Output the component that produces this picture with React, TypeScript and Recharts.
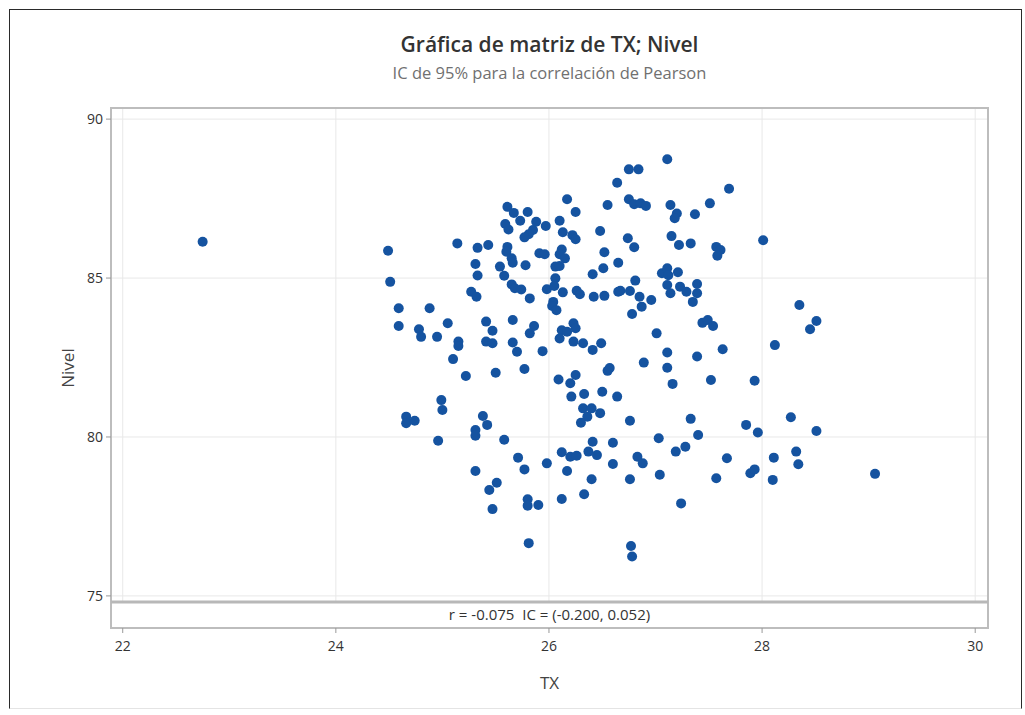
import React from 'react';
import {
  ScatterChart,
  Scatter,
  XAxis,
  YAxis,
  CartesianGrid,
  ReferenceArea,
  ReferenceLine,
} from 'recharts';

const title = 'Gráfica de matriz de TX; Nivel';
const subtitle = 'IC de 95% para la correlación de Pearson';
const corrText = 'r = -0.075\u00a0\u00a0IC = (-0.200, 0.052)';

const xTicks = [22, 24, 26, 28, 30];
const yTicks = [75, 80, 85, 90];

// TX values, same order as nivelValues
const txValues = [
  22.75, 26.64, 26.17, 26.55, 25.61, 25.67, 25.8, 25.73, 25.88, 26.25,
  26.1, 25.59, 25.62, 25.97, 25.85, 25.81, 25.77, 26.13, 26.22, 26.25,
  26.48, 24.49, 25.14, 25.33, 25.43, 25.61, 25.6, 25.91, 25.96, 26.12,
  26.1, 26.15, 26.52, 25.65, 25.66, 25.31, 25.54, 25.78, 26.06, 26.1,
  26.51, 26.65, 25.33, 25.58, 26.06, 26.41, 24.51, 25.65, 25.68, 25.74,
  25.98, 26.05, 26.13, 26.26, 26.29, 25.27, 25.32, 26.42, 26.52, 26.65,
  25.82, 27.11, 26.75, 26.84, 27.69, 26.75, 26.8, 26.86, 26.91, 27.14,
  27.51, 27.2, 27.18, 27.37, 26.74, 26.8, 27.15, 27.22, 27.33, 27.57,
  27.61, 27.58, 28.01, 26.81, 27.06, 27.11, 27.12, 27.21, 26.67, 26.76,
  26.85, 27.11, 27.14, 27.23, 27.29, 27.39, 27.39, 26.96, 26.04, 26.03,
  26.07, 24.59, 24.88, 24.59, 24.78, 24.8, 24.95, 25.05, 25.41, 25.47,
  25.66, 25.86, 25.82, 25.15, 25.15, 25.41, 25.47, 25.66, 25.7, 25.94,
  26.12, 26.17, 26.23, 26.25, 26.1, 26.23, 26.32, 26.41, 26.49, 25.1,
  25.22, 25.5, 25.77, 26.09, 26.2, 26.25, 26.55, 26.21, 26.33, 26.5,
  26.64, 24.99, 25.0, 24.66, 24.66, 24.74, 25.38, 25.42, 25.31, 25.31,
  24.96, 25.58, 26.32, 26.4, 26.36, 26.48, 26.3, 26.41, 26.6, 26.12,
  26.2, 26.26, 26.37, 26.45, 25.71, 26.87, 26.78, 27.35, 28.35, 28.51,
  28.45, 27.44, 27.49, 27.54, 27.01, 27.11, 27.39, 27.63, 28.12, 26.89,
  27.11, 26.57, 27.16, 27.52, 27.93, 26.76, 27.33, 27.85, 27.96, 28.27,
  28.51, 27.03, 27.4, 27.19, 27.28, 28.32, 26.83, 27.67, 28.11, 25.31,
  25.77, 25.98, 26.6, 26.17, 26.4, 25.51, 25.44, 25.8, 25.8, 25.9,
  26.12, 26.33, 25.47, 25.81, 26.88, 26.76, 27.04, 27.24, 27.57, 27.89,
  27.93, 28.1, 28.34, 26.77, 26.78, 29.06,
];

const nivelValues = [
  86.14, 88.0, 87.48, 87.3, 87.24, 87.05, 87.08, 86.8, 86.77, 87.08,
  86.8, 86.7, 86.53, 86.64, 86.51, 86.38, 86.28, 86.44, 86.35, 86.22,
  86.48, 85.86, 86.09, 85.95, 86.04, 85.98, 85.83, 85.78, 85.75, 85.9,
  85.75, 85.62, 85.81, 85.62, 85.48, 85.44, 85.36, 85.4, 85.36, 85.38,
  85.31, 85.48, 85.08, 85.07, 84.99, 85.12, 84.88, 84.8, 84.68, 84.64,
  84.65, 84.75, 84.55, 84.6, 84.49, 84.57, 84.41, 84.41, 84.44, 84.57,
  84.36, 88.74, 88.42, 88.42, 87.81, 87.48, 87.32, 87.35, 87.27, 87.3,
  87.35, 87.03, 86.88, 87.01, 86.25, 85.97, 86.32, 86.04, 86.09, 85.98,
  85.88, 85.7, 86.19, 84.92, 85.15, 85.31, 85.09, 85.18, 84.6, 84.59,
  84.41, 84.78, 84.52, 84.73, 84.57, 84.81, 84.52, 84.31, 84.25, 84.12,
  83.99, 84.05, 84.05, 83.49, 83.39, 83.15, 83.15, 83.58, 83.63, 83.34,
  83.68, 83.49, 83.26, 83.0, 82.86, 83.0, 82.95, 82.97, 82.68, 82.7,
  83.36, 83.31, 83.58, 83.42, 83.1, 83.0, 82.95, 82.74, 82.95, 82.45,
  81.92, 82.02, 82.14, 81.81, 81.69, 81.95, 82.08, 81.27, 81.35, 81.42,
  81.27, 81.16, 80.85, 80.64, 80.43, 80.51, 80.66, 80.38, 80.22, 80.04,
  79.88, 79.91, 80.9, 80.9, 80.64, 80.75, 80.45, 79.85, 79.82, 79.52,
  79.38, 79.41, 79.54, 79.43, 79.35, 84.1, 83.87, 84.25, 84.15, 83.65,
  83.39, 83.59, 83.68, 83.49, 83.26, 82.66, 82.53, 82.76, 82.89, 82.34,
  82.18, 82.17, 81.67, 81.79, 81.77, 80.51, 80.57, 80.38, 80.14, 80.62,
  80.19, 79.96, 80.06, 79.54, 79.69, 79.54, 79.38, 79.33, 79.35, 78.93,
  78.98, 79.17, 79.15, 78.93, 78.67, 78.56, 78.33, 78.04, 77.84, 77.86,
  78.05, 78.2, 77.73, 76.66, 79.17, 78.67, 78.81, 77.91, 78.7, 78.86,
  78.98, 78.65, 79.14, 76.57, 76.24, 78.84,
];

const points = txValues.map((tx, i) => ({ tx, nivel: nivelValues[i] }));

const font = "'Segoe UI', 'Open Sans', sans-serif";
const X_DOMAIN: [number, number] = [21.89, 30.12];
const Y_DOMAIN: [number, number] = [73.99, 90.35];
const STRIP_TOP = 74.81;

const Dot = (props: any) => {
  const { cx, cy } = props;
  if (cx == null || cy == null) return null;
  return <circle cx={cx} cy={cy} r={5} fill="#1553a0" />;
};

export default function App() {
  return (
    <div style={{ position: 'relative', width: 1025, height: 715, background: '#fff', fontFamily: font }}>
      <style>{'body{margin:0}'}</style>
      <div
        style={{
          position: 'absolute',
          left: 9,
          top: 9,
          width: 1011,
          height: 698,
          borderLeft: '1.5px solid #2a2a2a',
          borderTop: '1.5px solid #2a2a2a',
          borderRight: '1.5px solid #2a2a2a',
          borderBottom: '1px solid #e4e4e4',
        }}
      />
      <div
        style={{
          position: 'absolute',
          left: 111,
          width: 877,
          top: 30,
          textAlign: 'center',
          fontSize: 21,
          lineHeight: '28px',
          fontWeight: 600,
          color: '#333',
        }}
      >
        {title}
      </div>
      <div
        style={{
          position: 'absolute',
          left: 111,
          width: 877,
          top: 62,
          textAlign: 'center',
          fontSize: 16.5,
          lineHeight: '22px',
          color: '#707070',
        }}
      >
        {subtitle}
      </div>
      <div style={{ position: 'absolute', left: 0, top: 0 }}>
        <ScatterChart width={1025} height={715} margin={{ top: 108, right: 37, bottom: 25, left: 51 }}>
          <CartesianGrid stroke="#e8e8e8" strokeWidth={1} />
          <XAxis
            type="number"
            dataKey="tx"
            domain={X_DOMAIN}
            ticks={xTicks}
            allowDataOverflow
            height={62}
            axisLine={false}
            tickSize={5}
            tickMargin={8}
            tickLine={{ stroke: '#999' }}
            tick={{ fontSize: 14, fill: '#333', fontFamily: font }}
            label={{ value: 'TX', position: 'insideBottom', offset: 1, fontSize: 17, fill: '#444', fontFamily: font }}
          />
          <YAxis
            type="number"
            dataKey="nivel"
            domain={Y_DOMAIN}
            ticks={yTicks}
            allowDataOverflow
            width={60}
            axisLine={false}
            tickSize={5}
            tickMargin={3}
            tickLine={{ stroke: '#999' }}
            tick={{ fontSize: 14, fill: '#333', fontFamily: font }}
            label={{
              value: 'Nivel',
              angle: -90,
              position: 'insideLeft',
              offset: 17,
              fontSize: 17,
              fill: '#444',
              fontFamily: font,
              style: { textAnchor: 'middle' },
            }}
          />
          <ReferenceArea
            y1={Y_DOMAIN[0]}
            y2={STRIP_TOP}
            fill="#fff"
            fillOpacity={1}
            stroke="none"
            ifOverflow="visible"
            label={{ value: corrText, position: 'center', fontSize: 15, fill: '#333', fontFamily: font }}
          />
          <ReferenceLine y={STRIP_TOP} stroke="#b8b8b8" strokeWidth={3} ifOverflow="visible" />
          <ReferenceArea
            x1={X_DOMAIN[0]}
            x2={X_DOMAIN[1]}
            y1={Y_DOMAIN[0]}
            y2={Y_DOMAIN[1]}
            fill="none"
            stroke="#bdbdbd"
            strokeWidth={2}
            ifOverflow="visible"
          />
          <Scatter data={points} shape={Dot} isAnimationActive={false} />
        </ScatterChart>
      </div>
    </div>
  );
}
